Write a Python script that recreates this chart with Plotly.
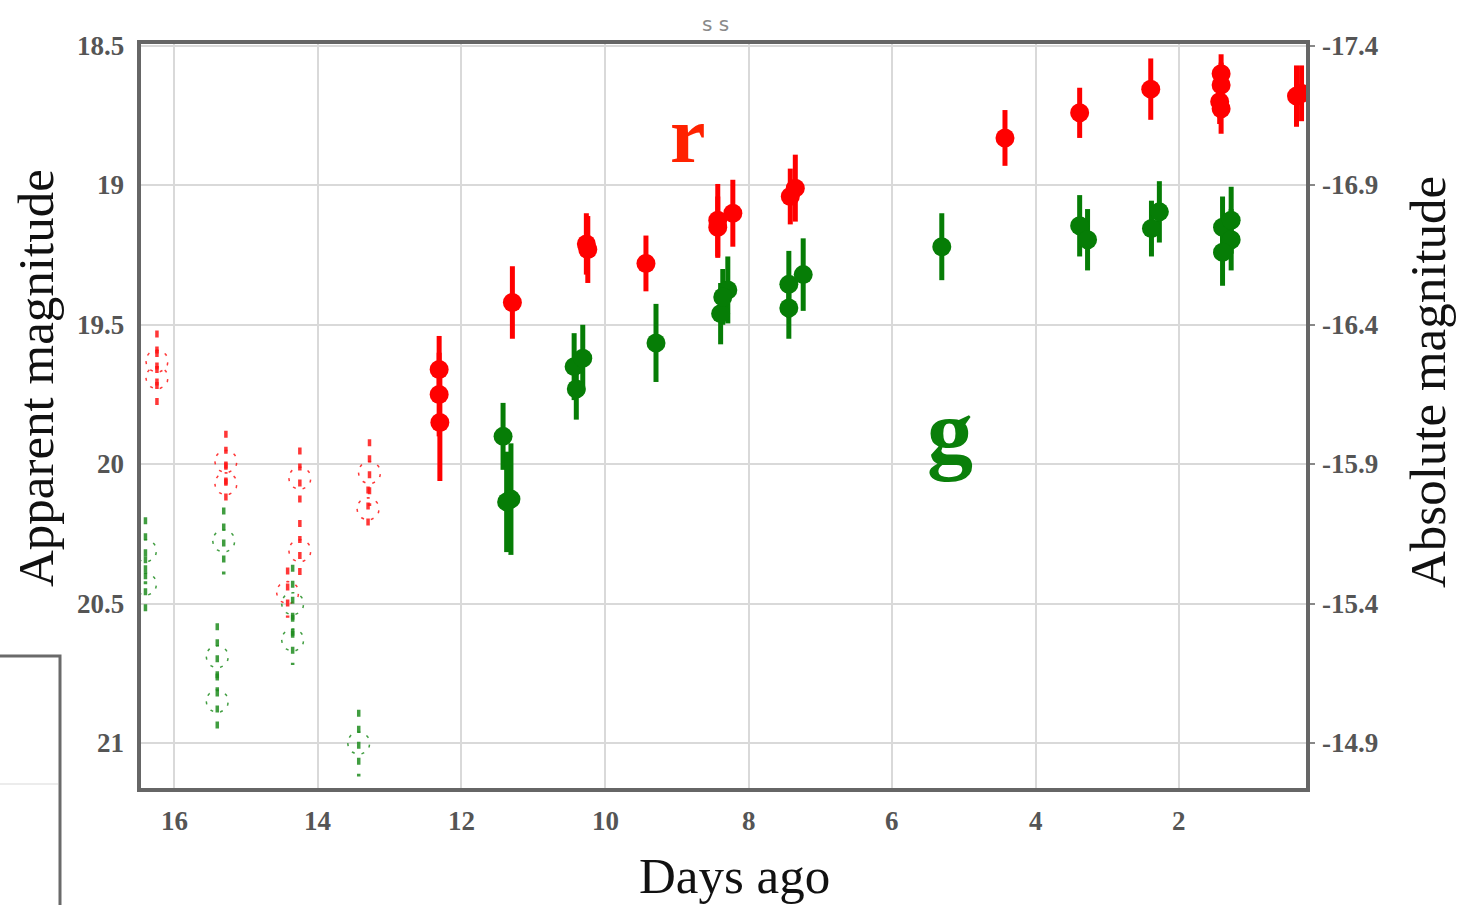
import numpy as np
import plotly.graph_objects as go

# ---- r-band detections (days ago, apparent mag, 1-sigma error) ----
r_days = [12.31, 12.31, 12.30, 11.29, 10.26, 10.24, 9.43, 8.43, 8.43, 8.22,
          7.35, 7.42, 4.43, 3.39, 2.40, 1.42, 1.42, 1.44, 1.42, 0.37, 0.30]
r_mag = [19.66, 19.75, 19.85, 19.42, 19.21, 19.23, 19.28, 19.125, 19.15, 19.10,
         19.01, 19.04, 18.83, 18.74, 18.655, 18.60, 18.64, 18.70, 18.725, 18.68, 18.67]
r_err = [0.12, 0.15, 0.21, 0.13, 0.11, 0.12, 0.10, 0.13, 0.11, 0.12,
         0.12, 0.10, 0.10, 0.09, 0.11, 0.07, 0.08, 0.08, 0.09, 0.11, 0.10]

# ---- g-band detections ----
g_days = [11.42, 11.31, 11.37, 10.43, 10.31, 10.40, 9.29, 8.39, 8.29, 8.36,
          7.44, 7.44, 7.24, 5.31, 3.39, 3.28, 2.39, 2.28, 1.40, 1.28, 1.28, 1.40]
g_mag = [19.90, 20.125, 20.135, 19.65, 19.62, 19.73, 19.565, 19.46, 19.375, 19.40,
         19.44, 19.355, 19.32, 19.22, 19.145, 19.195, 19.155, 19.095, 19.15, 19.125, 19.195, 19.24]
g_err = [0.12, 0.20, 0.18, 0.12, 0.12, 0.11, 0.14, 0.11, 0.12, 0.10,
         0.11, 0.12, 0.13, 0.12, 0.11, 0.11, 0.10, 0.11, 0.11, 0.12, 0.11, 0.12]

# ---- low-significance points (drawn dashed) ----
r_weak_days = [16.24, 16.24, 15.28, 15.28, 14.25, 14.25, 14.42, 13.28, 13.30]
r_weak_mag = [19.63, 19.69, 19.99, 20.07, 20.05, 20.31, 20.46, 20.03, 20.16]
r_weak_err = [0.11, 0.10, 0.11, 0.08, 0.11, 0.11, 0.09, 0.12, 0.08]

g_weak_days = [16.40, 16.40, 15.31, 15.40, 15.40, 14.35, 14.35, 13.43]
g_weak_mag = [20.31, 20.43, 20.275, 20.69, 20.85, 20.50, 20.63, 21.00]
g_weak_err = [0.12, 0.10, 0.12, 0.12, 0.10, 0.14, 0.09, 0.12]

# distance modulus linking apparent and absolute magnitude
DIST_MOD = 35.9

x_ticks = [16, 14, 12, 10, 8, 6, 4, 2]
x_ticktext = ["16", "14", "12", "10", "8", "6", "4", "2"]
y_ticks = [18.5, 19, 19.5, 20, 20.5, 21]
y_ticktext = ["18.5", "19", "19.5", "20", "20.5", "21"]
abs_ticks = [-17.4, -16.9, -16.4, -15.9, -15.4, -14.9]
abs_ticktext = ["-17.4", "-16.9", "-16.4", "-15.9", "-15.4", "-14.9"]

X_RANGE = [16.49, 0.21]
Y_RANGE = [21.168, 18.486]

W, H = 1463, 905
ML, MR, MT, MB = 139, 155, 42, 115
PW, PH = W - ML - MR, H - MT - MB

RED = "#ff0000"
GREEN = "#067d06"
SERIF = "Liberation Serif"

px_per_day = PW / abs(X_RANGE[0] - X_RANGE[1])
px_per_mag = PH / abs(Y_RANGE[0] - Y_RANGE[1])


def dashed_points(days, mags, errs, radius_px=11):
    """Vertical error segments and open circle outlines for weak points."""
    bx, by, cx, cy = [], [], [], []
    t = np.linspace(0, 2 * np.pi, 41)
    for d, m, e in zip(days, mags, errs):
        bx += [d, d, None]
        by += [m - e, m + e, None]
        cx += list(d + radius_px / px_per_day * np.cos(t)) + [None]
        cy += list(m + radius_px / px_per_mag * np.sin(t)) + [None]
    return bx, by, cx, cy


fig = go.Figure()

for days, mags, errs, col in [(r_weak_days, r_weak_mag, r_weak_err, "rgba(255,20,20,0.85)"),
                              (g_weak_days, g_weak_mag, g_weak_err, "rgba(30,140,30,0.85)")]:
    bx, by, cx, cy = dashed_points(days, mags, errs)
    fig.add_trace(go.Scatter(x=bx, y=by, mode="lines", hoverinfo="skip",
                             line=dict(color=col, width=3.5, dash="7px,9px"),
                             showlegend=False))
    fig.add_trace(go.Scatter(x=cx, y=cy, mode="lines", hoverinfo="skip",
                             line=dict(color=col, width=1.5, dash="3px,7px"),
                             showlegend=False))

for days, mags, errs, col in [(r_days, r_mag, r_err, RED), (g_days, g_mag, g_err, GREEN)]:
    fig.add_trace(go.Scatter(
        x=days, y=mags, mode="markers", showlegend=False,
        marker=dict(size=19, color=col, line=dict(width=0)),
        error_y=dict(type="data", array=errs, color=col, thickness=5, width=0),
    ))

# invisible trace to carry the absolute-magnitude axis
fig.add_trace(go.Scatter(x=[X_RANGE[0]], y=[abs_ticks[0]], yaxis="y2",
                         mode="markers", marker=dict(opacity=0),
                         showlegend=False, hoverinfo="skip"))


def paper_x(px):
    return (px - ML) / PW


def paper_y(py):
    return 1 - (py - MT) / PH


TICK_FONT = dict(family=SERIF, size=27, color="#555555")

# serif tick labels, placed at the axis tick values
tick_labels = []
for v, t in zip(x_ticks, x_ticktext):
    tick_labels.append(dict(text="<b>%s</b>" % t, xref="x", yref="paper", x=v, y=paper_y(821),
                            showarrow=False, font=TICK_FONT, xanchor="center", yanchor="middle"))
for v, t in zip(y_ticks, y_ticktext):
    tick_labels.append(dict(text="<b>%s</b>" % t, xref="paper", yref="y", x=paper_x(126), y=v,
                            showarrow=False, font=TICK_FONT, xanchor="right", yanchor="middle"))
for v, t in zip(abs_ticks, abs_ticktext):
    tick_labels.append(dict(text="<b>%s</b>" % t, xref="paper", yref="y2", x=paper_x(1320), y=v,
                            showarrow=False, font=TICK_FONT, xanchor="left", yanchor="middle"))

fig.update_layout(
    width=W, height=H,
    font=dict(family=SERIF, size=24, color="#555555"),
    margin=dict(l=ML, r=MR, t=MT, b=MB),
    paper_bgcolor="white", plot_bgcolor="white",
    xaxis=dict(range=X_RANGE, tickvals=x_ticks, showticklabels=False,
               showgrid=True, gridcolor="#d9d9d9", gridwidth=1.5,
               zeroline=False, showline=False, ticks=""),
    yaxis=dict(range=Y_RANGE, tickvals=y_ticks, showticklabels=False,
               showgrid=True, gridcolor="#d9d9d9", gridwidth=1.5,
               zeroline=False, showline=False, ticks=""),
    yaxis2=dict(range=[Y_RANGE[0] - DIST_MOD, Y_RANGE[1] - DIST_MOD], overlaying="y",
                side="right", tickvals=abs_ticks, showticklabels=False,
                showgrid=False, zeroline=False, showline=False,
                ticks="outside", ticklen=6, tickwidth=1.5, tickcolor="#888888"),
    shapes=[
        dict(type="rect", xref="paper", yref="paper", x0=0, x1=1, y0=0, y1=1,
             line=dict(color="#666666", width=4), layer="above"),
        # neighbouring panel edge at the lower left
        dict(type="rect", xref="paper", yref="paper",
             x0=paper_x(-10), x1=paper_x(60), y0=paper_y(915), y1=paper_y(656),
             line=dict(color="#6a6a6a", width=3)),
        dict(type="line", xref="paper", yref="paper",
             x0=paper_x(0), x1=paper_x(58), y0=paper_y(784), y1=paper_y(784),
             line=dict(color="#e6e6e6", width=1.5)),
    ],
    annotations=tick_labels + [
        dict(text="Apparent magnitude", xref="paper", yref="paper",
             x=paper_x(36), y=paper_y(378), textangle=-90, showarrow=False,
             font=dict(family=SERIF, size=51, color="#111111"),
             xanchor="center", yanchor="middle"),
        dict(text="Absolute magnitude", xref="paper", yref="paper",
             x=paper_x(1428), y=paper_y(382), textangle=-90, showarrow=False,
             font=dict(family=SERIF, size=51, color="#111111"),
             xanchor="center", yanchor="middle"),
        dict(text="Days ago", xref="paper", yref="paper",
             x=paper_x(734), y=paper_y(876), showarrow=False,
             font=dict(family=SERIF, size=51, color="#111111"),
             xanchor="center", yanchor="middle"),
        dict(text="s s", xref="paper", yref="paper",
             x=paper_x(715), y=paper_y(24), showarrow=False,
             font=dict(family="DejaVu Sans", size=20, color="#8a8a8a"),
             xanchor="center", yanchor="middle"),
        dict(text="<b>r</b>", xref="paper", yref="paper",
             x=paper_x(688), y=paper_y(135), showarrow=False,
             font=dict(family=SERIF, size=80, color="#ff2200"),
             xanchor="center", yanchor="middle"),
        dict(text="<b>g</b>", xref="paper", yref="paper",
             x=paper_x(950), y=paper_y(432), showarrow=False,
             font=dict(family=SERIF, size=92, color="#0a7f0a"),
             xanchor="center", yanchor="middle"),
    ],
)

fig.write_html("out.html")
